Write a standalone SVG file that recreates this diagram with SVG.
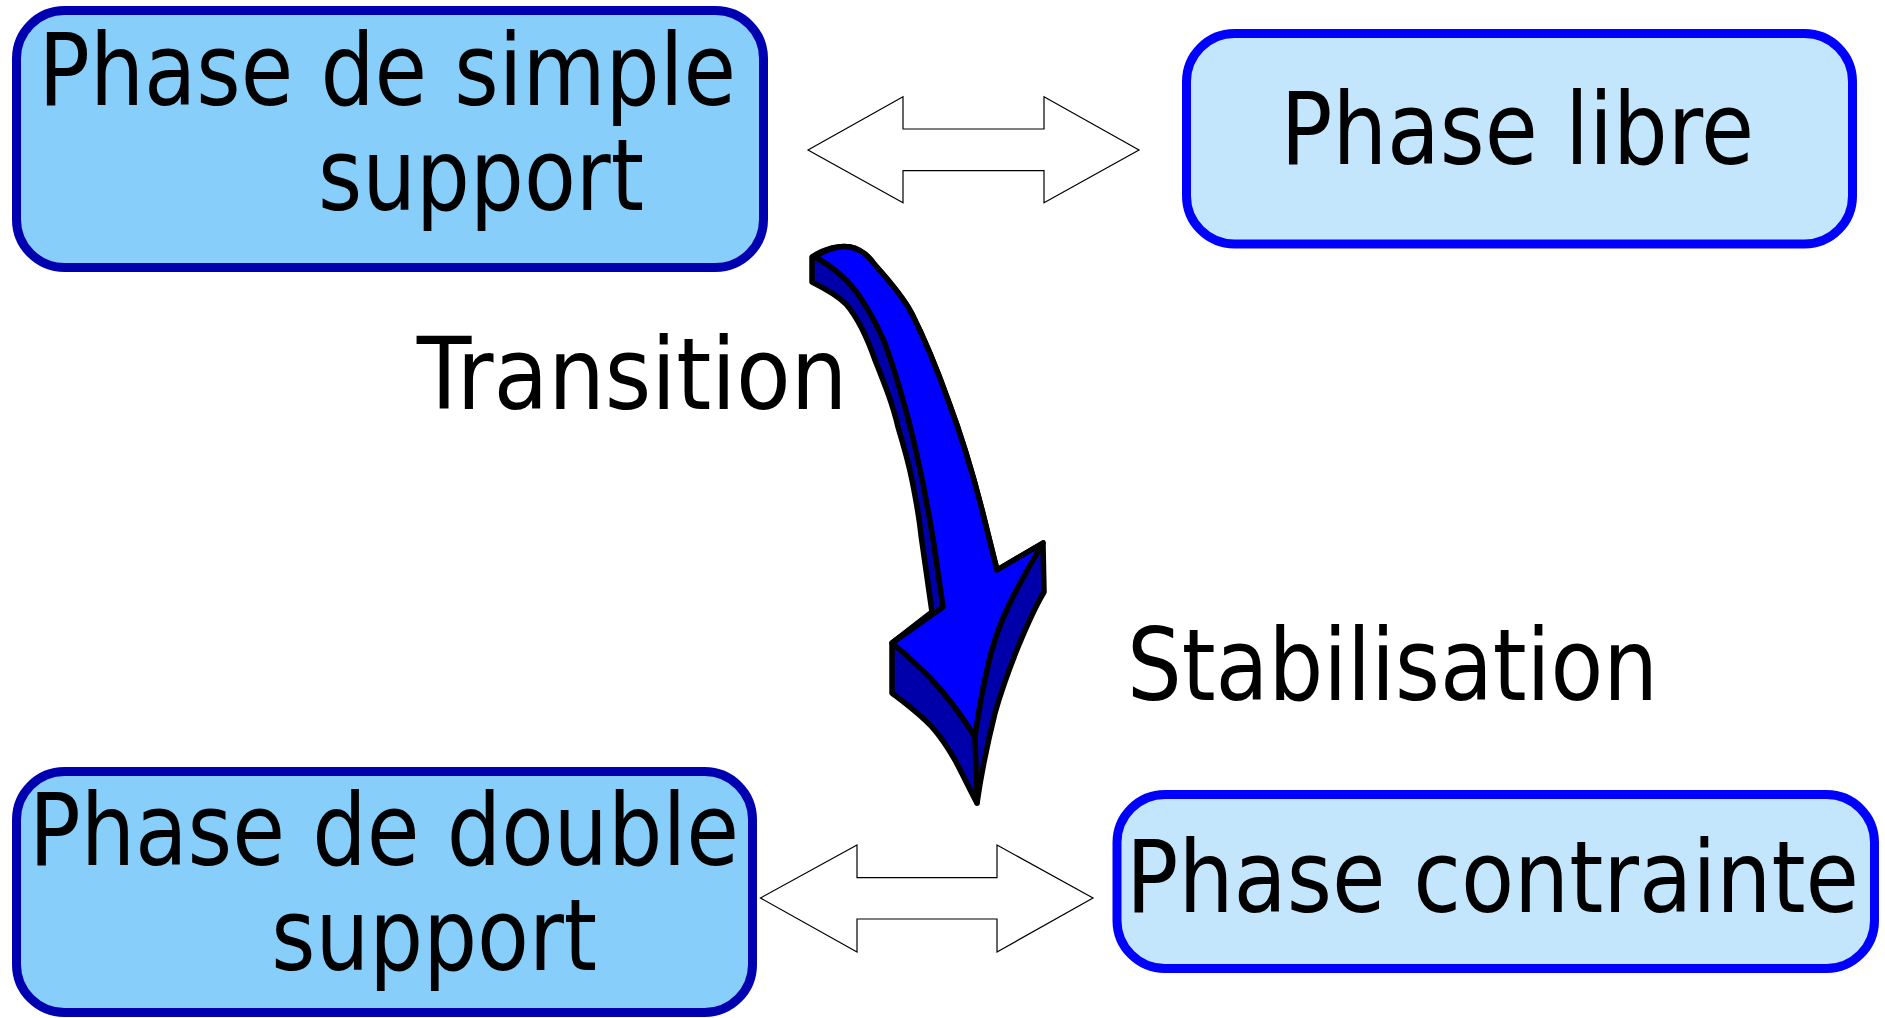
<svg xmlns="http://www.w3.org/2000/svg" width="1885" height="1018" viewBox="0 0 1885 1018">
  <style>
    .dark { fill: #87cefa; stroke: #0000b0; stroke-width: 9; }
    .light { fill: #c4e6fd; stroke: #0000ff; stroke-width: 9; }
    .lbl { font-family: "DejaVu Sans Condensed", "DejaVu Sans", "Liberation Sans", sans-serif; font-stretch: condensed; font-size: 100px; fill: #000; }
    .dbl { fill: #fff; stroke: #000; stroke-width: 1.2; stroke-linejoin: miter; }
    .side { fill: #0000aa; stroke: #000; stroke-width: 5.5; stroke-linejoin: round; }
    .front { fill: #0000ff; stroke: #000; stroke-width: 5.5; stroke-linejoin: round; }
  </style>
  <rect width="1885" height="1018" fill="#fff"/>

  <!-- Phase nodes -->
  <g id="simple-support">
    <rect class="dark" x="16.5" y="10.5" width="747" height="257" rx="48"/>
    <text class="lbl" x="38.5" y="105" textLength="697.5" lengthAdjust="spacingAndGlyphs">Phase de simple</text>
    <text class="lbl" x="318" y="210" textLength="326" lengthAdjust="spacingAndGlyphs">support</text>
  </g>

  <g id="libre">
    <rect class="light" x="1186.5" y="33.5" width="666" height="210.5" rx="48"/>
    <text class="lbl" x="1280.5" y="163.5" textLength="473.5" lengthAdjust="spacingAndGlyphs">Phase libre</text>
  </g>

  <g id="double-support">
    <rect class="dark" x="16.5" y="771.5" width="736" height="241" rx="48"/>
    <text class="lbl" x="29" y="865" textLength="710" lengthAdjust="spacingAndGlyphs">Phase de double</text>
    <text class="lbl" x="271.3" y="970" textLength="325.7" lengthAdjust="spacingAndGlyphs">support</text>
  </g>

  <g id="contrainte">
    <rect class="light" x="1117" y="794.5" width="757.5" height="174" rx="48"/>
    <text class="lbl" x="1126" y="911.5" textLength="733" lengthAdjust="spacingAndGlyphs">Phase contrainte</text>
  </g>

  <!-- Connectors -->
  <g id="connectors">
    <polygon class="dbl" points="808,150 903,96.7 903,129 1044,129 1044,96.7 1139,150 1044,202.7 1044,170.7 903,170.7 903,202.7"/>
    <polygon class="dbl" points="760.5,898 857,845 857,877.7 997,877.7 997,845 1093,898 997,952 997,919 857,919 857,952"/>

    <!-- curved 3D transition arrow -->
    <g id="transition-arrow">
      <path class="side" d="M 812,257 C 825,248 840,245 850,247 C 860,249 868,255 875,265
        C 893,285 905,300 912,314 C 925,340 938,372 948,400 C 963,440 975,480 987,530 L 997,570
        L 1043,543 L 1044,592
        C 1035,607 1025,630 1018,647 C 1008,672 1000,695 995,713 C 987,745 981,775 977,803
        C 970,790 962,773 955,760 C 948,748 940,736 932,727 C 920,714 905,703 892,693
        L 892,643 L 932,612 L 921,535
        C 919,515 916,500 912,480 C 909,465 905,450 898,427 C 893,405 885,385 875,360
        C 868,340 858,318 846,304 C 840,298 830,291 812,282 Z"/>
      <path class="front" d="M 815,257 C 826,249 840,245 850,247 C 860,249 868,255 875,265
        C 893,285 905,300 912,314 C 925,340 938,372 948,400 C 963,440 975,480 987,530 L 997,570
        L 1043,543
        C 1030,565 1018,585 1008,607 C 998,628 991,650 987,670 C 981,695 978,715 975,737
        C 962,716 948,697 932,680 C 920,667 905,654 892,643
        L 943,607 L 934,545
        C 930,520 926,498 921,474 C 917,455 912,432 905,407 C 900,390 895,370 884,341
        C 880,332 872,315 860,297 C 850,282 835,268 815,257 Z"/>
      <path d="M 975,737 L 977,803" fill="none" stroke="#000" stroke-width="5.5" stroke-linecap="round"/>
    </g>

    <text class="lbl" x="416.7" y="409" textLength="430.7" lengthAdjust="spacingAndGlyphs">Transition</text>
    <text class="lbl" x="1127" y="700" textLength="531" lengthAdjust="spacingAndGlyphs">Stabilisation</text>
  </g>
</svg>
